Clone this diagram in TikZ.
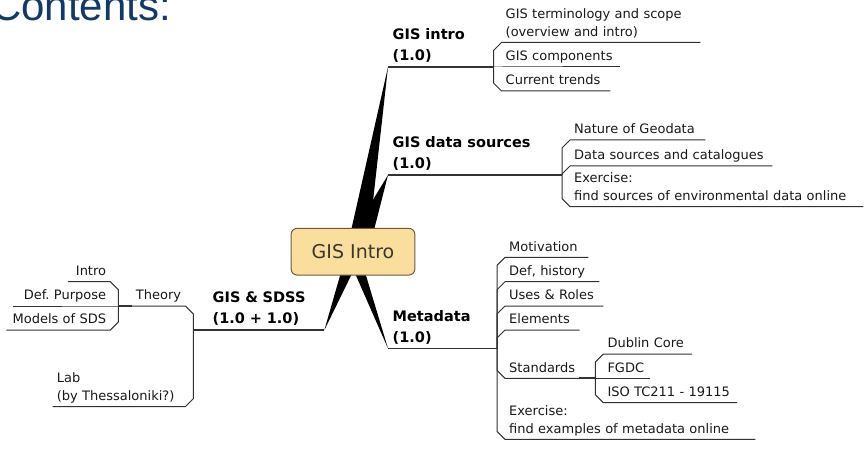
\documentclass[tikz,border=0pt]{standalone}
\usepackage{fontspec}
\setmainfont{DejaVu Sans}
\newfontfamily\titlefont{Liberation Sans}
\usetikzlibrary{calc}
\pgfdeclarelayer{background}
\pgfsetlayers{background,main}
\frenchspacing

\definecolor{titleblue}{RGB}{18,57,104}
\definecolor{boxfill}{RGB}{250,222,158}
\definecolor{boxline}{RGB}{105,90,62}
\definecolor{boxtext}{RGB}{60,55,44}
\definecolor{ink}{RGB}{25,25,25}
\definecolor{wire}{RGB}{50,50,50}

\tikzset{
  centre/.style={rounded corners=6pt, fill=boxfill, draw=boxline, line width=1pt,
    minimum width=123.7pt, minimum height=46.7pt, inner sep=0pt, text=boxtext,
    font=\fontsize{19}{23}\selectfont},
  topic/.style={font=\bfseries\fontsize{14.5}{21}\selectfont, text=black,
    inner xsep=4.5pt, inner ysep=0pt, align=left, anchor=south west,
    execute at end node=\strut},
  leaf/.style={font=\fontsize{13}{18}\selectfont, text=ink, inner xsep=4pt,
    inner ysep=0.5pt, execute at end node=\strut},
  leafR/.style={leaf, anchor=south west, align=left, text width=#1},
  leafL/.style={leaf, anchor=south east, align=right, text width=#1},
  ul/.style={draw=wire, line width=1.1pt},
  link/.style={draw=wire, line width=1pt, line join=miter},
  stem/.style={draw=wire, line width=1.7pt},
  wedge/.style={fill=black}
}

\begin{document}
\begin{tikzpicture}[x=1pt,y=-1pt]
\useasboundingbox (0,0) rectangle (867,449);

% heading
\node[anchor=base west, inner sep=0pt, text=titleblue,
  font=\titlefont\fontsize{42}{50}\selectfont] (title) at (-9,20.7) {Contents:};

% central topic
\node[centre] (C) at (353,251.7) {GIS Intro};

% main topics
\node[topic] (gi) at (388,67) {GIS intro\\(1.0)};
\node[topic] (gd) at (388,175) {GIS data sources\\(1.0)};
\node[topic] (md) at (388,348.5) {Metadata\\(1.0)};
\node[topic, text width=107pt] (gs) at (208,330) {GIS \& SDSS\\(1.0 + 1.0)};

% tapered branches from the central topic
\begin{pgfonlayer}{background}
\fill[wedge] (gi.south west) -- ($(C.north)+(-2,3)$) -- ($(C.north)+(16.7,3)$) -- cycle;
\fill[wedge] (gd.south west) -- ($(C.north)+(1.2,3)$) -- ($(C.north)+(20.8,3)$) -- cycle;
\fill[wedge] (gs.south east) -- ($(C.south)+(-12.1,-3)$) -- ($(C.south)+(-0.5,-3)$) -- cycle;
\fill[wedge] (md.south west) -- ($(C.south)+(1.7,-3)$) -- ($(C.south)+(12.1,-3)$) -- cycle;
\end{pgfonlayer}

% ---- GIS intro ----
\coordinate (bgi) at (493.5,67);
\draw[ul] (gi.south west) -- (gi.south east);
\draw[stem] (gi.south east) -- (bgi);
\node[leafR=190.5pt] (gi1) at (501.5,42.5) {GIS terminology and scope\\(overview and intro)};
\node[leafR=110.5pt] (gi2) at (501.5,67) {GIS components};
\node[leafR=100.5pt] (gi3) at (501.5,91) {Current trends};
\draw[link] (bgi) -- ($(gi1.south west)+(-8,8)$) -- (gi1.south west) -- (gi1.south east);
\draw[link] (bgi) -- (gi2.south west) -- (gi2.south east);
\draw[link] (bgi) -- ($(gi3.south west)+(-8,-8)$) -- (gi3.south west) -- (gi3.south east);

% ---- GIS data sources ----
\coordinate (bgd) at (562,175);
\draw[ul] (gd.south west) -- (gd.south east);
\draw[stem] (gd.south east) -- (bgd);
\node[leafR=127pt] (gd1) at (570,140) {Nature of Geodata};
\node[leafR=194pt] (gd2) at (570,166) {Data sources and catalogues};
\node[leafR=285pt] (gd3) at (570,206.7) {Exercise:\\find sources of environmental data online};
\draw[link] (bgd) -- ($(gd1.south west)+(-8,8)$) -- (gd1.south west) -- (gd1.south east);
\draw[link] (bgd) -- ($(gd2.south west)+(-8,8)$) -- (gd2.south west) -- (gd2.south east);
\draw[link] (bgd) -- ($(gd3.south west)+(-8,-8)$) -- (gd3.south west) -- (gd3.south east);

% ---- Metadata ----
\coordinate (bmd) at (497,348.5);
\draw[ul] (md.south west) -- (md.south east);
\draw[stem] (md.south east) -- (bmd);
\node[leafR=75pt] (m1) at (505,257.3) {Motivation};
\node[leafR=86pt] (m2) at (505,281.7) {Def, history};
\node[leafR=90pt] (m3) at (505,306) {Uses \& Roles};
\node[leafR=66.3pt] (m4) at (505,330) {Elements};
\node[leaf, anchor=south west] (m5) at (505,378.3) {Standards};
\node[leafR=242pt] (m6) at (505,439.3) {Exercise:\\find examples of metadata online};
\draw[link] (bmd) -- ($(m1.south west)+(-8,8)$) -- (m1.south west) -- (m1.south east);
\draw[link] (bmd) -- ($(m2.south west)+(-8,8)$) -- (m2.south west) -- (m2.south east);
\draw[link] (bmd) -- ($(m3.south west)+(-8,8)$) -- (m3.south west) -- (m3.south east);
\draw[link] (bmd) -- ($(m4.south west)+(-8,8)$) -- (m4.south west) -- (m4.south east);
\draw[link] (bmd) -- ($(m5.south west)+(-8,-8)$) -- (m5.south west) -- (m5.south east);
\draw[link] (bmd) -- ($(m6.south west)+(-8,-8)$) -- (m6.south west) -- (m6.south east);

% Standards
\coordinate (bst) at (595.3,378.3);
\draw[stem] (m5.south east) -- (bst);
\node[leafR=80.4pt] (s1) at (603.3,354) {Dublin Core};
\node[leafR=38pt] (s2) at (603.3,378.3) {FGDC};
\node[leafR=125.4pt] (s3) at (603.3,402.7) {ISO TC211 - 19115};
\draw[link] (bst) -- ($(s1.south west)+(-8,8)$) -- (s1.south west) -- (s1.south east);
\draw[link] (bst) -- (s2.south west) -- (s2.south east);
\draw[link] (bst) -- ($(s3.south west)+(-8,-8)$) -- (s3.south west) -- (s3.south east);

% ---- GIS & SDSS (left side) ----
\coordinate (bgs) at (193.3,330);
\draw[ul] (gs.south east) -- (gs.south west);
\draw[stem] (gs.south west) -- (bgs);
\node[leaf, anchor=south east] (th) at (185.3,306) {Theory};
\node[leafL=124.3pt, align=left] (lab) at (185.3,406.7) {Lab\\(by Thessaloniki?)};
\draw[link] (bgs) -- ($(th.south east)+(8,8)$) -- (th.south east) -- (th.south west);
\draw[link] (bgs) -- ($(lab.south east)+(8,-8)$) -- (lab.south east) -- (lab.south west);

% Theory
\coordinate (bth) at (118.3,306);
\draw[stem] (th.south west) -- (bth);
\node[leafL=34pt] (t1) at (110.3,281.7) {Intro};
\node[leafL=89pt] (t2) at (110.3,306) {Def. Purpose};
\node[leafL=95.6pt] (t3) at (110.3,330) {Models of SDS};
\draw[link] (bth) -- ($(t1.south east)+(8,8)$) -- (t1.south east) -- (t1.south west);
\draw[link] (bth) -- (t2.south east) -- (t2.south west);
\draw[link] (bth) -- ($(t3.south east)+(8,-8)$) -- (t3.south east) -- (t3.south west);
\end{tikzpicture}
\end{document}
